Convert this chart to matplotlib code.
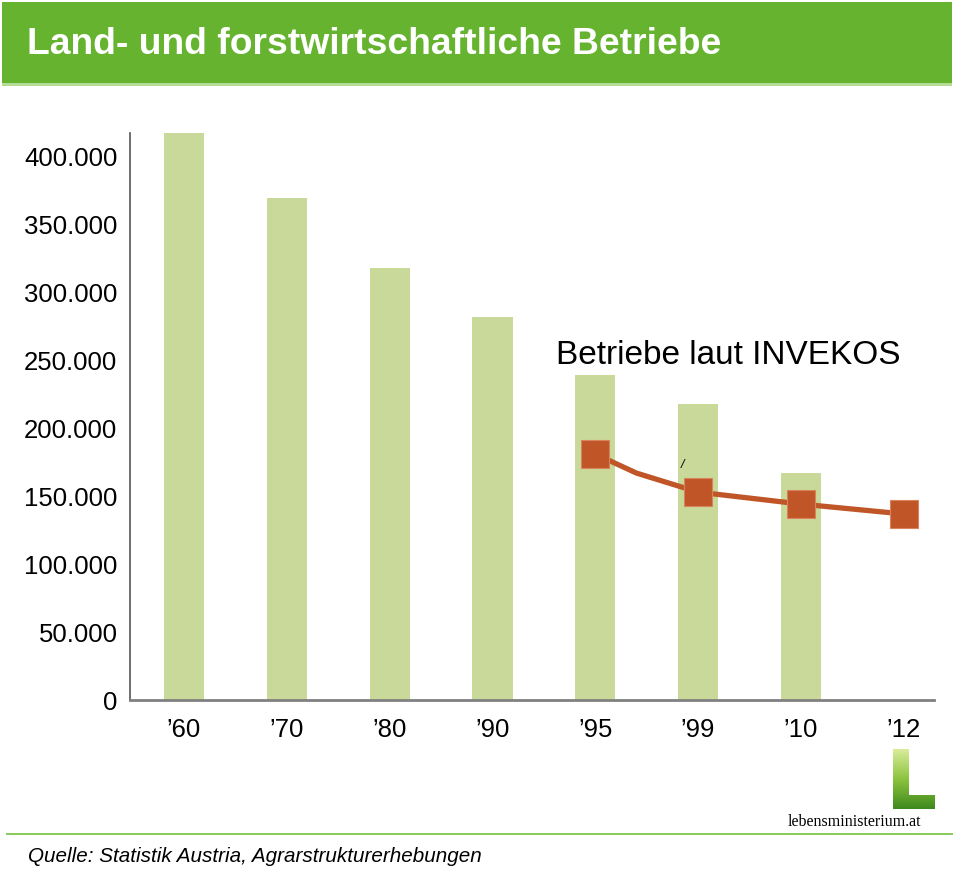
import matplotlib
matplotlib.use("Agg")
import numpy as np
import matplotlib.pyplot as plt
from matplotlib.patches import Rectangle, Polygon

# Daten
jahre = ["\u201960", "\u201970", "\u201980", "\u201990", "\u201995", "\u201999", "\u201910", "\u201912"]
betriebe = [417000, 369000, 317600, 281600, 239000, 217600, 166900, None]
invekos_x = [4, 4.4, 5, 6, 7]
invekos_y = [180900, 166900, 152900, 144100, 136800]
invekos_marker_x = [4, 5, 6, 7]
invekos_marker_y = [180900, 152900, 144100, 136800]
y_ticks = [0, 50000, 100000, 150000, 200000, 250000, 300000, 350000, 400000]

BAR_GREEN = "#c9d99a"
LINE_RED = "#c05628"
HEAD_GREEN = "#65b32e"

plt.rcParams["font.family"] = ["Liberation Sans", "DejaVu Sans"]

W, H = 954, 871
fig = plt.figure(figsize=(W / 100, H / 100), dpi=100)

def fx(px):
    return px / W

def fy(py):
    return 1 - py / H

# Kopfzeile
fig.patches.append(Rectangle((fx(2), fy(83)), fx(950), 81 / H, transform=fig.transFigure,
                             facecolor=HEAD_GREEN, edgecolor="none"))
fig.patches.append(Rectangle((fx(2), fy(86)), fx(950), 3 / H, transform=fig.transFigure,
                             facecolor="#b5dc95", edgecolor="none"))
fig.text(fx(27), fy(54), "Land- und forstwirtschaftliche Betriebe", color="white",
         fontsize=26.8, fontweight="bold", va="baseline", ha="left")

ax = fig.add_axes([fx(130), fy(700), fx(934) - fx(130), (700 - 133) / H])
x = list(range(len(jahre)))
bar_x = [i for i, v in zip(x, betriebe) if v is not None]
bar_y = [v for v in betriebe if v is not None]
ax.bar(bar_x, bar_y, width=0.39, color=BAR_GREEN, zorder=1)

ax.plot(invekos_x, invekos_y, color=LINE_RED, lw=3.8, zorder=2, solid_joinstyle="round")
ax.plot(invekos_marker_x, invekos_marker_y, ls="none", marker="s", markersize=20,
        color=LINE_RED, markeredgecolor="#d9825e", markeredgewidth=0.8, zorder=3)

ax.text(4.85, 173000, "/", fontsize=9, style="italic", ha="center", va="center")
ax.text(3.618, 253700, "Betriebe laut INVEKOS", fontsize=24, ha="left", va="center")

ax.set_xlim(-0.526, 7.295)
ax.set_ylim(0, 417000)
ax.set_xticks(x)
ax.set_xticklabels(jahre)
ax.set_yticks(y_ticks)
ax.set_yticklabels([f"{v:,}".replace(",", ".") for v in y_ticks])
ax.tick_params(axis="both", length=0, labelsize=18.5)
ax.tick_params(axis="y", pad=9)
ax.tick_params(axis="x", pad=13)
for s in ["top", "right"]:
    ax.spines[s].set_visible(False)
ax.spines["left"].set_color("#555555")
ax.spines["left"].set_linewidth(1.2)
ax.spines["bottom"].set_color("#808080")
ax.spines["bottom"].set_linewidth(2)

# Logo: "L" mit Farbverlauf
logo_pts = [(893, 749), (909, 749), (909, 795), (935, 795), (935, 809), (893, 809)]
lax = fig.add_axes([fx(893), fy(809), fx(935) - fx(893), (809 - 749) / H])
lax.set_xlim(893, 935)
lax.set_ylim(809, 749)
lax.axis("off")
grad = np.linspace(0, 1, 60).reshape(-1, 1) * np.ones((1, 42))
im = lax.imshow(grad, cmap=matplotlib.colors.LinearSegmentedColormap.from_list(
    "laub", ["#d8ec9a", "#8cc43e", "#3f8a1e"]), extent=(893, 935, 809, 749), aspect="auto")
clip = Polygon(logo_pts, closed=True, transform=lax.transData, facecolor="none", edgecolor="none")
lax.add_patch(clip)
im.set_clip_path(clip)
fig.text(fx(788), fy(826), "lebensministerium.at", fontsize=11.5, ha="left", va="baseline",
         family=["Liberation Serif"])

# Fusszeile
fig.patches.append(Rectangle((fx(6), fy(835)), fx(948), 2 / H, transform=fig.transFigure,
                             facecolor="#8ccb5e", edgecolor="none"))
fig.text(fx(28), fy(856), "Quelle: Statistik Austria, Agrarstrukturerhebungen",
         fontsize=14.9, style="italic", ha="left", va="center")

fig.savefig("out.png", dpi=100)
